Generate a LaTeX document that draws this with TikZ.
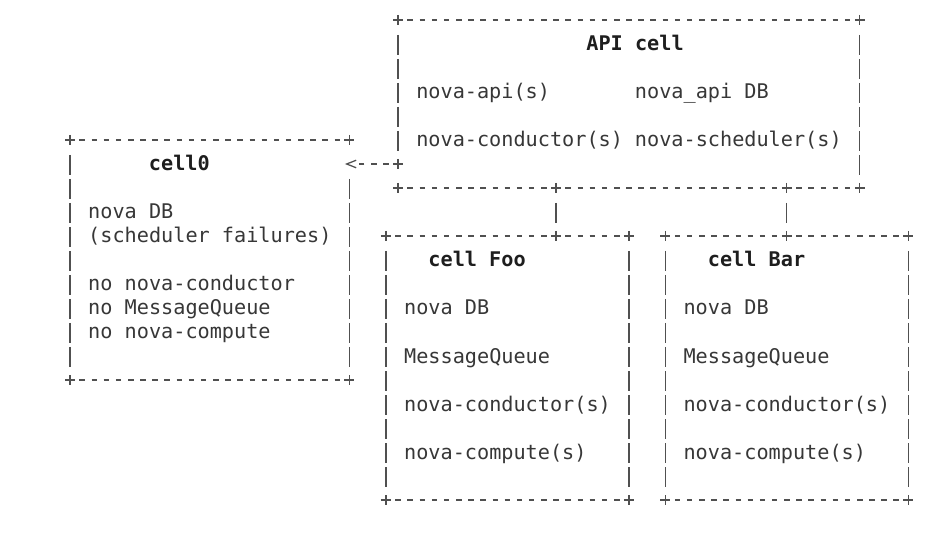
\documentclass[tikz,border=0pt]{standalone}
\usepackage{fontspec}
\newfontfamily\dvmono{DejaVu Sans Mono}
\usetikzlibrary{arrows.meta,calc}
\definecolor{ink}{RGB}{55,55,55}
\definecolor{titleink}{RGB}{30,30,30}
\definecolor{rulegray}{RGB}{80,80,80}
\tikzset{
  lbl/.style={font=\dvmono\fontsize{20.2}{24}\selectfont, text=ink, inner sep=0pt, outer sep=0pt, anchor=base west, yshift=-2pt},
  ttl/.style={lbl, font=\dvmono\bfseries\fontsize{20.2}{24}\selectfont, text=titleink},
  area/.style={rectangle, draw=none, inner sep=0pt, outer sep=0pt},
  hside/.style={draw=rulegray, line width=1.25pt, dash pattern=on 5.5pt off 6.65pt},
  vside/.style={draw=rulegray, line width=1.25pt, dash pattern=on 20pt off 4pt},
  arrowline/.style={draw=rulegray, line width=1.25pt,
    dash pattern=on 5.5pt off 6.65pt on 5.5pt off 6.65pt on 5.5pt off 40pt,
    -{Straight Barb[length=9.5pt,width=7.5pt]}},
  plusmark/.pic={\draw[draw=rulegray, line width=1.25pt] (-5,0) -- (5,0) (0,-5) -- (0,5);}
}
\begin{document}
\begin{tikzpicture}[x=1pt,y=-1pt]
\fill[white] (0,0) rectangle (940,545);
\useasboundingbox (0,0) rectangle (940,545);

% box areas
\node[area, minimum width=461.7pt, minimum height=168pt] (api) at (628.9,104) {};
\node[area, minimum width=279.45pt, minimum height=240pt] (cell0) at (209.725,260) {};
\node[area, minimum width=243pt, minimum height=264pt] (foo) at (507.4,368) {};
\node[area, minimum width=243pt, minimum height=264pt] (bar) at (786.85,368) {};

% top and bottom borders with corner marks
\foreach \b in {api,cell0,foo,bar}{
  \draw[hside] ($(\b.north west)+(9.4,0)$) -- ($(\b.north east)+(-9.4,0)$);
  \draw[hside] ($(\b.south west)+(9.4,0)$) -- ($(\b.south east)+(-9.4,0)$);
  \pic at (\b.north west) {plusmark};
  \pic at (\b.north east) {plusmark};
  \pic at (\b.south west) {plusmark};
  \pic at (\b.south east) {plusmark};
}

% side borders
\foreach \b in {foo,bar}{
  \draw[vside] ($(\b.north west)+(0,15)$) -- ($(\b.south west)+(0,-13)$);
  \draw[vside] ($(\b.north east)+(0,15)$) -- ($(\b.south east)+(0,-13)$);
}
\draw[vside] ($(cell0.north west)+(0,15)$) -- ($(cell0.south west)+(0,-13)$);
\draw[vside] ($(cell0.north east)+(0,39)$) -- ($(cell0.south east)+(0,-13)$);
\draw[vside] ($(api.north east)+(0,15)$) -- ($(api.south east)+(0,-13)$);
\draw[vside] ($(api.north west)+(0,15)$) -- ($(api.north west)+(0,131)$);

% junctions and connectors
\coordinate (fooj) at ($(foo.north west)+(170.1,0)$);
\coordinate (barj) at ($(bar.north west)+(121.5,0)$);
\coordinate (apiport) at ($(api.north west)+(0,144)$);
\pic at (fooj) {plusmark};
\pic at (barj) {plusmark};
\pic at (api.south -| fooj) {plusmark};
\pic at (api.south -| barj) {plusmark};
\pic at (apiport) {plusmark};
\draw[vside] ($(api.south -| fooj)+(0,15)$) -- ($(fooj)+(0,-13)$);
\draw[vside] ($(api.south -| barj)+(0,15)$) -- ($(barj)+(0,-13)$);
\draw[arrowline] ($(apiport)+(-9.4,0)$) -- ($(cell0.east |- apiport)+(-4.5,0)$);

% API cell
\node[ttl] (apititle) at (586.375,49) {API cell};
\node[lbl] (apiapi) at (416.275,97) {nova-api(s)};
\node[lbl] (apidb) at (634.975,97) {nova\_api DB};
\node[lbl] (apicond) at (416.275,145) {nova-conductor(s)};
\node[lbl] (apisched) at (634.975,145) {nova-scheduler(s)};

% cell0
\node[ttl] (c0title) at (148.975,169) {cell0};
\node[lbl] (c0db) at (88.225,217) {nova DB};
\node[lbl] (c0fail) at (88.225,241) {(scheduler failures)};
\node[lbl] (c0cond) at (88.225,289) {no nova-conductor};
\node[lbl] (c0mq) at (88.225,313) {no MessageQueue};
\node[lbl] (c0comp) at (88.225,337) {no nova-compute};

% cell Foo
\node[ttl] (footitle) at (428.425,265) {cell Foo};
\node[lbl] (foodb) at (404.125,313) {nova DB};
\node[lbl] (foomq) at (404.125,361) {MessageQueue};
\node[lbl] (foocond) at (404.125,409) {nova-conductor(s)};
\node[lbl] (foocomp) at (404.125,457) {nova-compute(s)};

% cell Bar
\node[ttl] (bartitle) at (707.875,265) {cell Bar};
\node[lbl] (bardb) at (683.575,313) {nova DB};
\node[lbl] (barmq) at (683.575,361) {MessageQueue};
\node[lbl] (barcond) at (683.575,409) {nova-conductor(s)};
\node[lbl] (barcomp) at (683.575,457) {nova-compute(s)};
\end{tikzpicture}
\end{document}
